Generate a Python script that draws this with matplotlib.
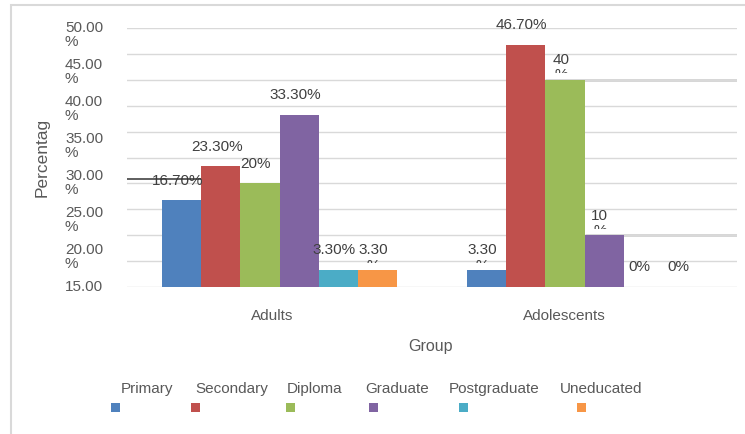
import numpy as np
import matplotlib.pyplot as plt
from matplotlib.patches import Rectangle

plt.rcParams['font.family'] = ['Liberation Sans', 'DejaVu Sans']

groups = ["Adults", "Adolescents"]
levels = ["Primary", "Secondary", "Diploma", "Graduate", "Postgraduate", "Uneducated"]
colors = ["#4f81bd", "#c0504d", "#9bbb59", "#8064a2", "#4bacc6", "#f79646"]

adults = [16.7, 23.3, 20.0, 33.3, 3.3, 3.3]
adolescents = [3.3, 46.7, 40.0, 10.0, 0.0, 0.0]

adults_labels = ["16.70%", "23.30%", "20%", "33.30%", "3.30%", "3.30\n%"]
adolescents_labels = ["3.30\n%", "46.70%", "40\n%", "10\n%", "0%", "0%"]

ytick_text = ["15.00", "20.00\n%", "25.00\n%", "30.00\n%", "35.00\n%",
              "40.00\n%", "45.00\n%", "50.00\n%"]

txt = "#595959"
W, H = 745, 435

fig = plt.figure(figsize=(W / 100, H / 100), dpi=100)
ax = fig.add_axes([127 / W, 1 - 288 / H, 610 / W, 259 / H])

x = np.arange(len(groups))
width = 0.128
offsets = (np.arange(len(levels)) - 2.5) * width

for i, (name, col) in enumerate(zip(levels, colors)):
    vals = [adults[i], adolescents[i]]
    labs = [adults_labels[i], adolescents_labels[i]]
    bars = ax.bar(x + offsets[i], vals, width, color=col, zorder=3, label=name)
    for b, v, lab in zip(bars, vals, labs):
        cx = b.get_x() + b.get_width() / 2
        for k, line in enumerate(lab.split("\n")):
            t = ax.annotate(line, xy=(cx, v), xytext=(-3, 12 - 11 * k),
                            textcoords="offset points", ha="center",
                            va="baseline", fontsize=11, color="#404040",
                            zorder=4)
            if k > 0:
                # wrapped part of the label is cut off just above the bar
                t.set_clip_path(Rectangle((-1, v + 1.25), 3, 100,
                                          transform=ax.transData))

ax.set_xlim(-0.5, 1.5)
ax.set_ylim(0, 50)

# gridlines every 5, labels drawn separately
ax.set_yticks(np.arange(0, 51, 5))
ax.yaxis.grid(True, color="#d9d9d9", lw=1.0, zorder=0)
ax.tick_params(axis="y", length=0, labelleft=False)
ax.hlines(40, x[1] + offsets[2] - width / 2, 1.5, color="#cacaca", lw=1.8, zorder=1)
ax.hlines(10, x[1] + offsets[3] - width / 2, 1.5, color="#cacaca", lw=1.8, zorder=1)
ax.hlines(20.8, -0.5, x[0] + offsets[1] - width / 2, color="#333333", lw=1.1, zorder=5)

for v, lab in zip(np.linspace(0, 50, len(ytick_text)), ytick_text):
    ax.annotate(lab, xy=(-62 / 610, v), xycoords=ax.get_yaxis_transform(),
                xytext=(0, 6), textcoords="offset points",
                ha="left", va="top", fontsize=11, color=txt,
                linespacing=1.05)

# category labels sit a little left of the bar groups
ax.set_xticks(x + np.array([-0.024, -0.067]))
ax.set_xticklabels(groups, fontsize=11, color=txt)
ax.tick_params(axis="x", length=0, pad=15)

for s in ax.spines.values():
    s.set_visible(False)

fig.text(42 / W, 1 - 157 / H, "Percentag", rotation=90, ha="center", va="center",
         fontsize=12.5, color=txt)
fig.text(430 / W, 1 - 347 / H, "Group", ha="center", va="center",
         fontsize=11.5, color=txt)

# legend: names above small colour squares
legend_text_x = [147, 232, 315, 397, 494, 601]
legend_box_x = [115, 195, 290, 373, 463, 581]
for name, col, tx, bx in zip(levels, colors, legend_text_x, legend_box_x):
    fig.text(tx / W, 1 - 389 / H, name, ha="center", va="center",
             fontsize=11, color=txt)
    fig.add_artist(Rectangle(((bx - 4.5) / W, 1 - 413 / H), 9 / W, 9 / H,
                             transform=fig.transFigure, color=col, lw=0))

fig.add_artist(Rectangle((11 / W, -0.05), 1.1, 1 - 6 / H + 0.05,
                         transform=fig.transFigure, fill=False,
                         edgecolor="#d9d9d9", lw=1.5))

fig.savefig("out.png", dpi=100)
